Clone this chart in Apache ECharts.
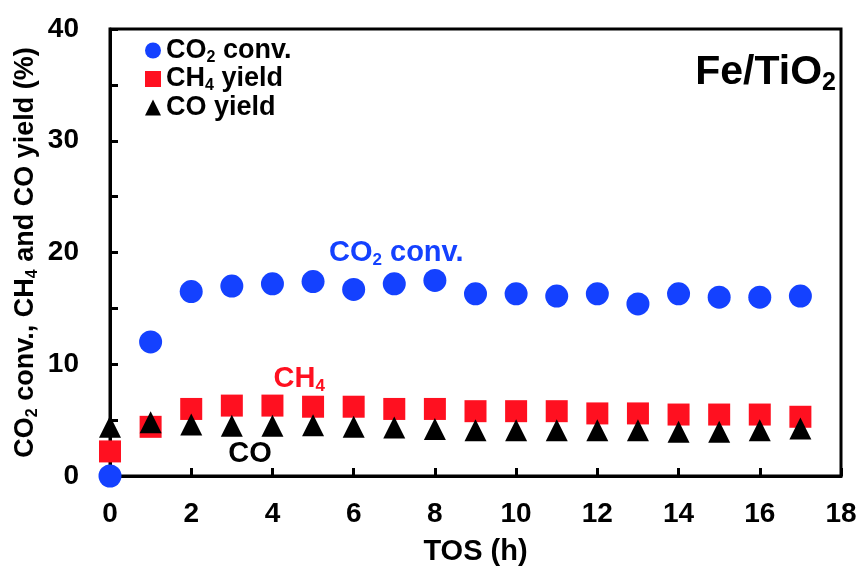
<!DOCTYPE html>
<html lang="en">
<head>
<meta charset="UTF-8">
<title>Fe/TiO2</title>
<script src="https://cdn.jsdelivr.net/npm/echarts@6/dist/echarts.min.js"></script>
</head>
<body style="margin:0; background:#fff;">
<div id="main" style="width:860px; height:571px;"></div>
<script>
// TOS (h) and measured values (%)
var tos = [0, 1, 2, 3, 4, 5, 6, 7, 8, 9, 10, 11, 12, 13, 14, 15, 16, 17];
var co2Conv = [0, 12.0, 16.5, 17.0, 17.2, 17.4, 16.7, 17.2, 17.5, 16.3, 16.3, 16.1, 16.3, 15.4, 16.3, 16.0, 16.0, 16.1];
var ch4Yield = [2.2, 4.4, 6.0, 6.3, 6.3, 6.2, 6.2, 6.0, 6.0, 5.8, 5.8, 5.8, 5.6, 5.6, 5.5, 5.5, 5.5, 5.3];
var coYield = [4.4, 4.8, 4.6, 4.5, 4.5, 4.55, 4.4, 4.35, 4.2, 4.1, 4.1, 4.1, 4.1, 4.1, 3.95, 3.95, 4.1, 4.25];

var seriesNames = ['CO2 conv.', 'CH4 yield', 'CO yield'];
var legendText = {
    'CO2 conv.': '{a|CO}{s|2}{a| conv.}',
    'CH4 yield': '{a|CH}{s|4}{a| yield}',
    'CO yield': '{a|CO yield}'
};
// in-plot labels, [x, y] in data units
var notes = [
    {text: '{a|CO}{s|2}{a| conv.}', at: [7.05, 20.0], color: '#1441FF'},
    {text: '{a|CH}{s|4}', at: [4.66, 8.7], color: '#FF1020'},
    {text: '{a|CO}', at: [3.45, 2.0], color: '#000'}
];

var BLUE = '#1441FF', RED = '#FF1020';
var FONT = '"Liberation Sans", Arial, sans-serif';

function pairs(ys) {
    return tos.map(function (x, i) { return [x, ys[i]]; });
}
// rich styles for chart options (color) or zrender graphics (fill)
// subscript: tiny line box pinned to the bottom of a tall line
function rich(size, color, key) {
    key = key || 'color';
    var a = {fontSize: size, fontWeight: 'bold', fontFamily: FONT,
        lineHeight: Math.round(size * 1.1), verticalAlign: 'middle'};
    var s = {fontSize: Math.round(size * 0.6), fontWeight: 'bold', fontFamily: FONT,
        lineHeight: 4, verticalAlign: 'bottom'};
    a[key] = color;
    s[key] = color;
    return {a: a, s: s};
}

var chart = echarts.init(document.getElementById('main'));
var option = {
    animation: false,
    backgroundColor: '#fff',
    grid: {left: 110, right: 19, top: 29, bottom: 95, show: true, borderColor: '#000', borderWidth: 3},
    legend: {
        orient: 'vertical', left: 140, top: 32, itemGap: 0, itemWidth: 16, itemHeight: 16,
        data: [
            {name: seriesNames[0], icon: 'circle'},
            {name: seriesNames[1], icon: 'rect'},
            {name: seriesNames[2], icon: 'triangle'}
        ],
        formatter: function (name) { return legendText[name]; },
        textStyle: {rich: rich(27, '#000')}
    },
    xAxis: {
        type: 'value', min: 0, max: 18, interval: 2,
        name: 'TOS (h)', nameLocation: 'middle', nameGap: 61, nameMoveOverlap: false,
        nameTextStyle: {fontSize: 29, fontWeight: 'bold', fontFamily: FONT, color: '#000'},
        axisLine: {lineStyle: {color: '#000', width: 3}},
        axisTick: {inside: true, length: 8, lineStyle: {color: '#000', width: 3}},
        axisLabel: {margin: 24, fontSize: 28, fontWeight: 'bold', fontFamily: FONT, color: '#000'},
        splitLine: {show: false}
    },
    yAxis: {
        type: 'value', min: 0, max: 40, interval: 5,
        name: '{a|CO}{s|2}{a| conv., CH}{s|4}{a| and CO yield (%)}',
        nameLocation: 'middle', nameGap: 69, nameRotate: 90, nameMoveOverlap: false,
        nameTextStyle: {rich: rich(27, '#000')},
        axisLine: {lineStyle: {color: '#000', width: 3}},
        axisTick: {inside: true, length: 8, lineStyle: {color: '#000', width: 3}},
        axisLabel: {
            margin: 31, fontSize: 28, fontWeight: 'bold', fontFamily: FONT, color: '#000',
            formatter: function (v) { return v % 10 === 0 ? String(v) : ''; }
        },
        splitLine: {show: false}
    },
    series: [
        {name: seriesNames[0], type: 'scatter', symbol: 'circle', symbolSize: 23, clip: false, z: 3,
            itemStyle: {color: BLUE, opacity: 1}, data: pairs(co2Conv)},
        {name: seriesNames[1], type: 'scatter', symbol: 'rect', symbolSize: 22, clip: false, z: 4,
            itemStyle: {color: RED, opacity: 1}, data: pairs(ch4Yield)},
        {name: seriesNames[2], type: 'scatter', symbol: 'triangle', symbolSize: [22, 22], clip: false, z: 5,
            itemStyle: {color: '#000', opacity: 1}, data: pairs(coYield)}
    ]
};
chart.setOption(option);

var graphics = notes.map(function (n) {
    var p = chart.convertToPixel({gridIndex: 0}, n.at);
    return {
        type: 'text', x: p[0], y: p[1], z: 10,
        style: {text: n.text, align: 'center', verticalAlign: 'middle', fill: n.color,
            rich: rich(29, n.color, 'fill')}
    };
});
var title = rich(41, '#000', 'fill');
graphics.push({
    type: 'text', x: 836, y: 73, z: 10,
    style: {text: '{a|Fe/TiO}{s|2}', align: 'right', verticalAlign: 'middle', fill: '#000', rich: title}
});
chart.setOption({graphic: graphics});
</script>
</body>
</html>
